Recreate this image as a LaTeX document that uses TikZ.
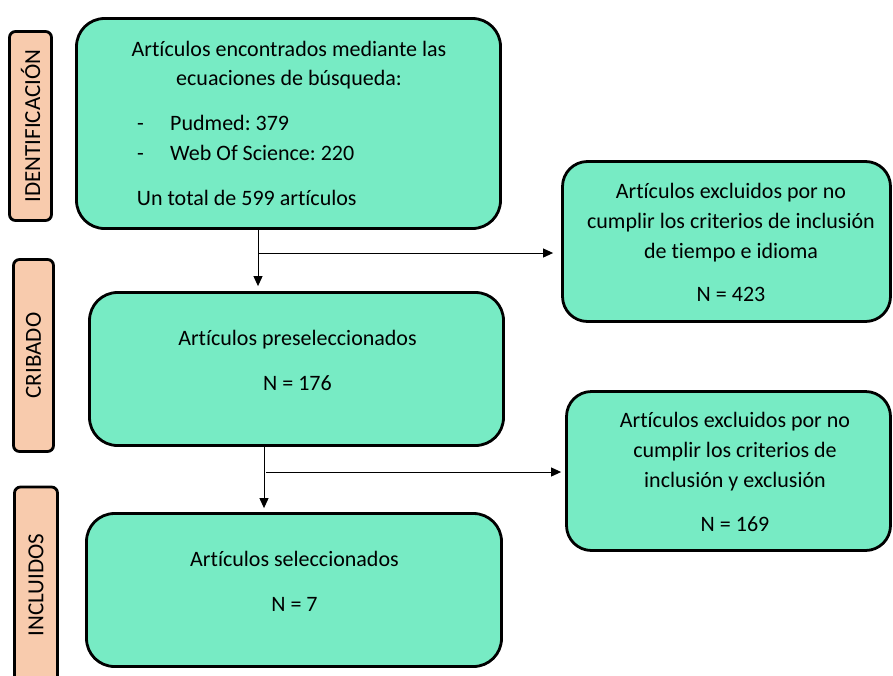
\documentclass[tikz,border=0pt]{standalone}
\usepackage{fontspec}
\setmainfont[Ligatures={NoCommon}]{Carlito}
\usetikzlibrary{arrows.meta}
\definecolor{boxgreen}{HTML}{77EBC4}
\definecolor{salmon}{HTML}{F8CBAD}
\frenchspacing
\begin{document}
\begin{tikzpicture}[x=1pt,y=-1pt,
  flowbox/.style={draw=black, line width=2.8pt, fill=boxgreen, rounded corners=28pt, inner sep=0pt},
  phasebox/.style={draw=black, line width=2.8pt, fill=salmon, rounded corners=6pt, inner sep=0pt,
    font=\fontsize{23}{26}\selectfont},
  txt/.style={inner sep=0pt, anchor=base, font=\fontsize{22}{26}\selectfont},
  txtl/.style={txt, anchor=base west},
  flowarrow/.style={draw=black, line width=1pt, -{Triangle[length=10pt,width=9pt]}}]
\clip (0,0) rectangle (893,675);
\fill[white] (0,0) rectangle (893,675);

% phase labels
\node[phasebox, minimum width=42pt, minimum height=189pt] (ph1) at (30.5,126) {\rotatebox{90}{IDENTIFICACIÓN}};
\node[phasebox, minimum width=40pt, minimum height=192pt] (ph2) at (33.5,355.5) {\rotatebox{90}{CRIBADO}};
\node[phasebox, minimum width=43pt, minimum height=196pt] (ph3) at (36,585) {\rotatebox{90}{INCLUIDOS}};

% boxes
\node[flowbox, minimum width=424pt, minimum height=210pt] (b1) at (288.5,123.5) {};
\node[flowbox, minimum width=414pt, minimum height=153pt] (b2) at (296.5,369) {};
\node[flowbox, minimum width=415pt, minimum height=153pt] (b3) at (294,590) {};
\node[flowbox, rounded corners=25pt, minimum width=328pt, minimum height=160pt] (r1) at (726.5,241.5) {};
\node[flowbox, rounded corners=25pt, minimum width=324pt, minimum height=159pt] (r2) at (728.5,471) {};

% box 1 text
\node[txt] (t1a) at (289,56.7) {Artículos encontrados mediante las};
\node[txt] (t1b) at (289,85) {ecuaciones de búsqueda:};
\node[txtl] (t1c) at (137,130.7) {-};
\node[txtl] (t1d) at (170,130.7) {Pudmed: 379};
\node[txtl] (t1e) at (137,160) {-};
\node[txtl] (t1f) at (170,160) {Web Of Science: 220};
\node[txtl] (t1g) at (136.7,205) {Un total de 599 artículos};

% box 2 text
\node[txt] (t2a) at (297.5,345.7) {Artículos preseleccionados};
\node[txt] (t2b) at (297.5,390.7) {N = 176};

% box 3 text
\node[txt] (t3a) at (294.5,566.7) {Artículos seleccionados};
\node[txt] (t3b) at (294.5,611.7) {N = 7};

% right box 1 text
\node[txt] (r1a) at (731,198) {Artículos excluidos por no};
\node[txt] (r1b) at (731,228) {cumplir los criterios de inclusión};
\node[txt] (r1c) at (731,258) {de tiempo e idioma};
\node[txt] (r1d) at (731,301.7) {N = 423};

% right box 2 text
\node[txt] (r2a) at (735,427) {Artículos excluidos por no};
\node[txt] (r2b) at (735,457) {cumplir los criterios de};
\node[txt] (r2c) at (735,487) {inclusión y exclusión};
\node[txt] (r2d) at (735,531) {N = 169};

% connectors
\coordinate (v1) at (258,253);
\coordinate (v2) at (264,472);
\coordinate (h2) at (266,472);
\draw[flowarrow, shorten >=5pt] (b1.south -| v1) -- (b2.north -| v1);
\draw[flowarrow, shorten >=8pt] (v1) -- (r1.west |- v1);
\draw[flowarrow, shorten >=4pt] (b2.south -| v2) -- (b3.north -| v2);
\draw[flowarrow, shorten >=4pt] (h2) -- (r2.west |- h2);
\end{tikzpicture}
\end{document}
